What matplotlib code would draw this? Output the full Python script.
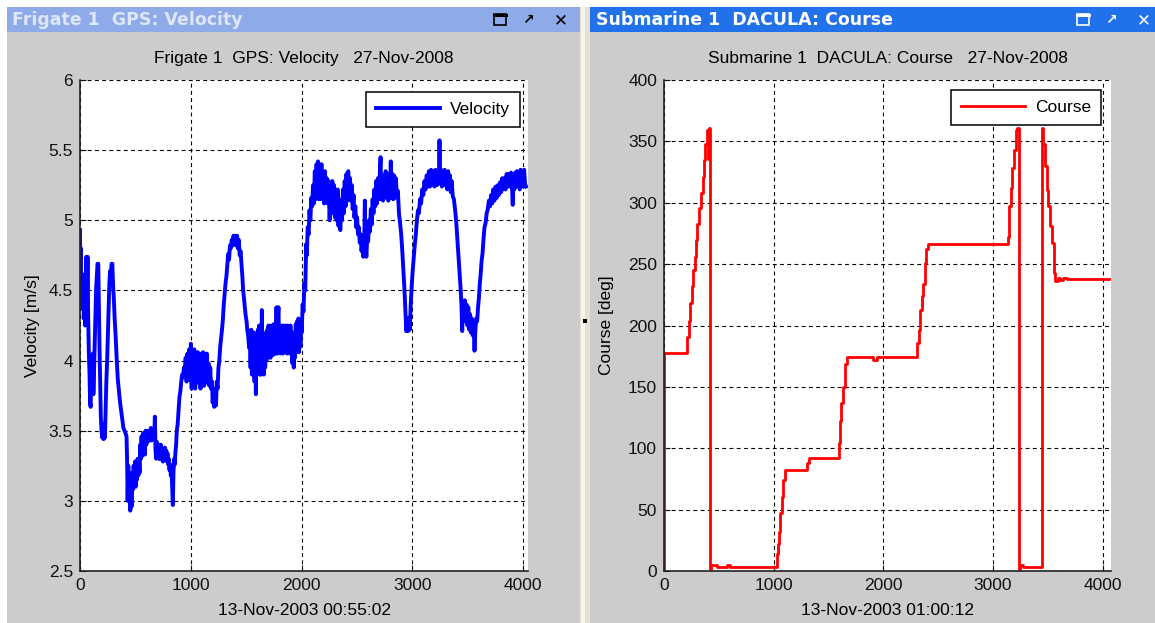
import numpy as np
import matplotlib.pyplot as plt
from matplotlib.patches import Rectangle

plt.rcParams['font.family'] = ['Liberation Sans', 'DejaVu Sans']

#==============================================================================
# DATA (read off the two MATLAB windows)
#==============================================================================

# Frigate 1 GPS velocity [m/s], (sample, value) pairs
vel_start = [(0, 4.93), (4, 4.55), (8, 4.8), (12, 4.45), (17, 4.62), (22, 4.37), (28, 4.5),
             (34, 4.3), (40, 4.45), (46, 4.25), (52, 4.45), (58, 4.74), (63, 4.4), (68, 4.74),
             (74, 4.3), (80, 4.05), (86, 3.9), (91, 3.7), (96, 3.67), (101, 3.85), (106, 4.0),
             (111, 3.9), (116, 4.05), (121, 3.76), (126, 3.9), (132, 4.1), (138, 4.3), (145, 4.5),
             (152, 4.6), (158, 4.69), (165, 4.69), (170, 4.4), (176, 4.1), (182, 3.85), (188, 3.6),
             (194, 3.5), (201, 3.45), (207, 3.55), (213, 3.44), (219, 3.5), (225, 3.45), (231, 3.65),
             (238, 3.85), (245, 4.0), (252, 4.2), (258, 4.4), (265, 4.55), (272, 4.64), (278, 4.6),
             (285, 4.69), (292, 4.69), (298, 4.55), (305, 4.45), (313, 4.3), (322, 4.17), (332, 4.0),
             (342, 3.86), (352, 3.78), (362, 3.7), (372, 3.64), (382, 3.58), (392, 3.52), (402, 3.5),
             (412, 3.48)]

vel_valley = [(420, 3.46), (425, 3.3), (430, 3.0), (436, 3.25), (442, 3.05), (448, 3.2), (454, 2.93),
              (460, 3.1), (466, 2.96), (472, 3.2), (478, 3.08), (484, 3.25), (490, 3.12), (496, 3.28),
              (502, 3.1), (508, 3.25), (514, 3.15), (520, 3.3), (526, 3.18), (532, 3.29), (538, 3.2),
              (544, 3.4), (550, 3.3), (556, 3.46), (562, 3.32), (568, 3.48), (574, 3.35), (580, 3.45),
              (586, 3.33), (592, 3.5), (598, 3.4), (604, 3.48), (610, 3.42), (616, 3.5), (622, 3.43),
              (628, 3.5), (634, 3.44), (640, 3.52), (646, 3.43), (652, 3.48), (658, 3.44), (664, 3.5),
              (670, 3.44), (676, 3.6), (682, 3.36), (688, 3.3), (694, 3.42), (700, 3.33), (706, 3.4),
              (712, 3.3), (718, 3.38), (724, 3.3), (730, 3.4), (736, 3.3), (742, 3.36), (748, 3.28),
              (754, 3.35), (760, 3.3), (766, 3.38), (772, 3.3), (778, 3.36), (784, 3.28), (790, 3.34),
              (796, 3.26), (802, 3.3), (808, 3.22), (814, 3.26), (820, 3.18), (826, 3.24), (832, 3.1),
              (838, 2.97), (844, 3.2), (850, 3.3), (856, 3.26), (862, 3.35), (868, 3.4), (874, 3.5),
              (882, 3.55), (890, 3.65), (898, 3.74), (906, 3.78), (914, 3.85), (922, 3.9), (930, 3.88),
              (938, 3.95), (946, 3.92), (954, 4.02)]

vel_band1 = [(962, 3.85), (970, 4.05), (978, 3.9), (986, 4.08), (994, 3.86), (1001, 4.12), (1008, 3.8),
             (1016, 4.05), (1024, 3.88), (1032, 4.08), (1040, 3.8), (1048, 4.02), (1056, 3.86),
             (1064, 4.06), (1072, 3.84), (1080, 4.02), (1088, 3.8), (1096, 4.05), (1104, 3.86),
             (1112, 4.06), (1120, 3.82), (1128, 4.0), (1136, 3.85), (1144, 4.05), (1152, 3.84),
             (1160, 3.98), (1168, 3.82), (1176, 3.95), (1184, 3.8), (1192, 3.85), (1198, 3.7),
             (1205, 3.8), (1212, 3.67), (1220, 3.72), (1228, 3.68), (1235, 3.85), (1242, 3.8),
             (1250, 3.95)]

vel_hump = [(1258, 4.0), (1266, 4.1), (1274, 4.16), (1282, 4.22), (1290, 4.29), (1298, 4.4),
            (1306, 4.48), (1314, 4.55), (1322, 4.6), (1330, 4.68), (1338, 4.76), (1346, 4.72),
            (1354, 4.82), (1362, 4.8), (1370, 4.86), (1378, 4.82), (1386, 4.89), (1394, 4.84),
            (1402, 4.89), (1410, 4.82), (1418, 4.89), (1426, 4.8), (1434, 4.86), (1442, 4.75),
            (1450, 4.78), (1458, 4.69), (1466, 4.6), (1473, 4.5), (1480, 4.45), (1488, 4.38),
            (1496, 4.32), (1504, 4.28), (1510, 4.22), (1518, 4.18), (1527, 4.09)]

vel_band2 = [(1534, 4.2), (1540, 3.95), (1546, 4.22), (1552, 3.9), (1558, 4.18), (1564, 3.92),
             (1570, 4.2), (1576, 3.85), (1582, 4.1), (1588, 3.76), (1594, 4.15), (1600, 3.95),
             (1606, 4.22), (1612, 3.92), (1618, 4.25), (1624, 3.9), (1630, 4.15), (1636, 3.9),
             (1642, 4.36), (1648, 3.95), (1654, 4.18), (1660, 3.9), (1666, 4.15), (1672, 3.95),
             (1678, 4.2), (1684, 4.0), (1690, 4.22), (1696, 4.05), (1702, 4.25), (1708, 4.05),
             (1714, 4.22), (1720, 4.02), (1726, 4.25), (1732, 4.05), (1738, 4.22), (1744, 4.04),
             (1750, 4.26), (1756, 4.05), (1762, 4.24), (1768, 4.05), (1774, 4.38), (1780, 4.05),
             (1786, 4.3), (1792, 4.38), (1798, 4.08), (1804, 4.25), (1810, 4.05), (1816, 4.22),
             (1822, 4.06), (1828, 4.25), (1834, 4.05), (1840, 4.22), (1846, 4.06), (1852, 4.25),
             (1858, 4.08), (1864, 4.22), (1870, 4.05), (1876, 4.25), (1882, 4.08), (1888, 4.22),
             (1894, 4.05), (1900, 4.25), (1906, 4.05), (1912, 4.2), (1918, 3.98), (1924, 4.2),
             (1930, 3.95), (1936, 4.18), (1942, 4.02), (1948, 4.26), (1954, 4.06), (1960, 4.28),
             (1966, 4.08), (1972, 4.3), (1978, 4.06), (1984, 4.28), (1990, 4.1), (1996, 4.25)]

vel_fast = [(2002, 4.2), (2010, 4.4), (2018, 4.35), (2026, 4.55), (2034, 4.5), (2042, 4.83),
            (2048, 4.75), (2056, 4.95), (2064, 4.9), (2072, 5.07), (2080, 5.0), (2088, 5.16),
            (2096, 5.1), (2104, 5.25), (2112, 5.12), (2120, 5.35), (2128, 5.15), (2136, 5.4),
            (2142, 5.18), (2149, 5.42), (2156, 5.15), (2164, 5.38), (2172, 5.15), (2180, 5.4),
            (2188, 5.18), (2196, 5.32), (2204, 5.12), (2212, 5.35), (2220, 5.15), (2228, 5.3),
            (2236, 5.12), (2244, 5.28), (2254, 5.0), (2262, 5.22), (2270, 5.05), (2278, 5.28),
            (2286, 5.05), (2294, 5.25), (2302, 5.02), (2310, 5.2), (2318, 5.0), (2326, 5.22),
            (2334, 4.96), (2342, 5.15), (2350, 4.93), (2358, 5.12), (2366, 5.0), (2374, 5.22),
            (2382, 5.05), (2390, 5.28), (2398, 5.1), (2406, 5.33), (2414, 5.14), (2422, 5.35),
            (2430, 5.15), (2438, 5.3), (2446, 5.14), (2454, 5.25), (2462, 5.08), (2470, 5.18),
            (2478, 5.02), (2486, 5.1), (2494, 4.95), (2502, 5.02), (2510, 4.9), (2518, 4.95),
            (2526, 4.84), (2534, 4.9), (2542, 4.78), (2550, 4.85), (2558, 4.74), (2566, 4.82),
            (2572, 5.14), (2578, 4.8), (2586, 4.74), (2594, 4.9), (2602, 4.85), (2610, 5.0),
            (2618, 4.92), (2626, 5.08), (2634, 4.97), (2642, 5.15), (2650, 5.05), (2658, 5.22),
            (2666, 5.1), (2674, 5.28), (2682, 5.12), (2690, 5.3), (2698, 5.15), (2706, 5.32),
            (2714, 5.45), (2720, 5.15), (2728, 5.3), (2736, 5.14), (2744, 5.32), (2752, 5.16),
            (2760, 5.35), (2768, 5.18), (2776, 5.3), (2784, 5.14), (2792, 5.33), (2800, 5.18),
            (2806, 5.42), (2812, 5.16), (2820, 5.33), (2828, 5.15), (2836, 5.32), (2844, 5.16),
            (2852, 5.3), (2860, 5.18), (2870, 5.21)]

vel_dips = [(2880, 5.05), (2890, 4.98), (2900, 4.9), (2910, 4.78), (2920, 4.64), (2930, 4.5),
            (2938, 4.35), (2946, 4.21), (2954, 4.3), (2962, 4.21), (2970, 4.3), (2978, 4.22),
            (2986, 4.4), (2994, 4.52), (3002, 4.62), (3010, 4.7), (3021, 4.81), (3030, 4.88),
            (3040, 4.98), (3051, 5.07), (3060, 5.05), (3070, 5.15), (3080, 5.12), (3090, 5.22),
            (3100, 5.18), (3110, 5.28), (3120, 5.22), (3130, 5.32), (3140, 5.24), (3150, 5.35),
            (3160, 5.24), (3170, 5.36), (3180, 5.26), (3190, 5.35), (3200, 5.24), (3210, 5.36),
            (3220, 5.25), (3230, 5.35), (3240, 5.26), (3246, 5.57), (3252, 5.28), (3260, 5.36),
            (3268, 5.24), (3276, 5.35), (3284, 5.25), (3292, 5.36), (3300, 5.26), (3308, 5.34),
            (3316, 5.22), (3324, 5.35), (3332, 5.24), (3340, 5.32), (3348, 5.2), (3356, 5.28),
            (3366, 5.17), (3376, 5.15), (3386, 5.08), (3396, 5.0), (3406, 4.88), (3416, 4.76),
            (3426, 4.64), (3436, 4.52), (3444, 4.4), (3451, 4.21), (3458, 4.42), (3466, 4.3),
            (3474, 4.43), (3482, 4.28), (3490, 4.4), (3498, 4.25), (3506, 4.38), (3514, 4.22),
            (3522, 4.33), (3530, 4.2), (3538, 4.3), (3546, 4.18), (3554, 4.26), (3562, 4.07),
            (3570, 4.22), (3578, 4.3), (3586, 4.28), (3594, 4.38), (3602, 4.45), (3610, 4.55),
            (3618, 4.62), (3626, 4.71), (3634, 4.76), (3642, 4.85), (3652, 4.95), (3662, 4.98),
            (3672, 5.05), (3682, 5.08), (3692, 5.14), (3702, 5.1), (3712, 5.18), (3722, 5.12),
            (3732, 5.22), (3742, 5.14), (3752, 5.24), (3762, 5.16), (3772, 5.25), (3782, 5.18),
            (3792, 5.27), (3802, 5.2), (3812, 5.3), (3822, 5.22), (3832, 5.3), (3842, 5.22),
            (3852, 5.33), (3862, 5.24), (3872, 5.33), (3882, 5.24), (3892, 5.34), (3900, 5.25),
            (3907, 5.11), (3914, 5.3), (3922, 5.22), (3930, 5.34), (3938, 5.24), (3946, 5.35),
            (3954, 5.25), (3962, 5.32), (3970, 5.22), (3978, 5.36), (3986, 5.25), (3994, 5.33),
            (4002, 5.24), (4010, 5.36), (4018, 5.26), (4028, 5.24)]

# Submarine 1 DACULA course [deg], value holds until the next sample
course_pts = [(0, 0), (4, 178), (212, 191), (224, 204), (237, 218), (252, 232), (268, 245),
              (280, 256), (292, 270), (305, 283), (320, 296), (336, 308), (352, 321), (364, 335),
              (376, 348), (390, 359), (400, 336), (406, 361), (420, 2), (432, 5), (480, 3),
              (572, 5), (602, 3), (1030, 14), (1040, 22), (1050, 32), (1062, 47), (1074, 60),
              (1087, 74), (1100, 82), (1302, 88), (1318, 92), (1592, 104), (1604, 122),
              (1617, 137), (1632, 150), (1648, 169), (1665, 174), (1904, 172), (1940, 174),
              (2310, 186), (2322, 196), (2334, 213), (2348, 224), (2360, 234), (2375, 251),
              (2390, 262), (2406, 266), (3136, 272), (3146, 297), (3160, 312), (3175, 328),
              (3190, 343), (3205, 359), (3220, 361), (3236, 2), (3246, 5), (3275, 3),
              (3446, 361), (3458, 348), (3472, 330), (3487, 310), (3500, 297), (3516, 281),
              (3536, 267), (3552, 243), (3568, 236), (3590, 239), (3613, 237), (3640, 239),
              (3673, 238), (4054, 238)]

x_ticks = [0, 1000, 2000, 3000, 4000]
vel_yticks = [2.5, 3, 3.5, 4, 4.5, 5, 5.5, 6]
vel_ylabels = ['2.5', '3', '3.5', '4', '4.5', '5', '5.5', '6']
course_yticks = [0, 50, 100, 150, 200, 250, 300, 350, 400]
course_ylabels = ['0', '50', '100', '150', '200', '250', '300', '350', '400']

vel = np.array(vel_start + vel_valley + vel_band1 + vel_hump + vel_band2 + vel_fast + vel_dips)
course = np.array(course_pts)

#==============================================================================
# FIGURE + WINDOW FRAMES (pixel coordinates)
#==============================================================================

W, H = 1155, 623
fig = plt.figure(figsize=(W / 100, H / 100), dpi=100)
fig.patch.set_facecolor('white')

bg = fig.add_axes([0, 0, 1, 1], zorder=0)
bg.set_xlim(0, W)
bg.set_ylim(H, 0)
bg.axis('off')

bg.add_patch(Rectangle((7, 7), 573, H - 7, facecolor='#cccccc', lw=0))
bg.add_patch(Rectangle((590, 7), W - 590, H - 7, facecolor='#cccccc', lw=0))
bg.add_patch(Rectangle((7, 7), 573, 25, facecolor='#8eaae8', lw=0))
bg.add_patch(Rectangle((590, 7), W - 590, 25, facecolor='#2171ea', lw=0))
bg.add_patch(Rectangle((580, 7), 10, H - 7, facecolor='#e6e2cf', lw=0))
bg.add_patch(Rectangle((581, 7), 4, H - 7, facecolor='#f6f4ec', lw=0))
bg.add_patch(Rectangle((583, 319), 4, 4, facecolor='black', lw=0))

bg.text(12, 20, 'Frigate 1  GPS: Velocity', fontsize=12.5, fontweight='bold',
        color='#dfe6f8', va='center', family='DejaVu Sans')
bg.text(596, 20, 'Submarine 1  DACULA: Course', fontsize=12.5, fontweight='bold',
        color='white', va='center', family='DejaVu Sans')


def window_buttons(x0, color):
    # maximise / undock / close
    bg.add_patch(Rectangle((x0, 14), 12, 11, fill=False, edgecolor=color, lw=1.2))
    bg.plot([x0, x0 + 12], [14.6, 14.6], color=color, lw=2.2)
    bg.text(x0 + 34, 20, '\u2197', fontsize=10, fontweight='bold', color=color,
            ha='center', va='center', family='DejaVu Sans')
    bg.text(x0 + 67, 20, '\u2715', fontsize=12, fontweight='bold', color=color,
            ha='center', va='center', family='DejaVu Sans')


window_buttons(494, 'black')
window_buttons(1077, 'white')

#==============================================================================
# PLOTS
#==============================================================================


def setup_axes(ax, xmax, ylim, yticks, ylabels, ylabel, title, xlabel, ylabelpad):
    ax.set_facecolor('white')
    ax.set_xlim(0, xmax)
    ax.set_ylim(*ylim)
    ax.set_xticks(x_ticks)
    ax.set_xticklabels([str(t) for t in x_ticks])
    ax.set_yticks(yticks)
    ax.set_yticklabels(ylabels)
    for s in ['top', 'right']:
        ax.spines[s].set_visible(False)
    for s in ['left', 'bottom']:
        ax.spines[s].set_color('#222222')
        ax.spines[s].set_linewidth(1.2)
    ax.grid(True, color='black', linestyle=(0, (3.5, 3)), linewidth=0.8)
    ax.set_axisbelow(True)
    ax.tick_params(direction='in', length=4, labelsize=12.5, pad=5, colors='#111111')
    ax.set_title(title, fontsize=12.5, pad=12.5)
    ax.set_xlabel(xlabel, fontsize=12.5, labelpad=7.5)
    ax.set_ylabel(ylabel, fontsize=12.5, labelpad=ylabelpad)


def add_legend(ax, anchor):
    leg = ax.legend(loc='upper right', bbox_to_anchor=anchor, borderaxespad=0,
                    fontsize=12.5, fancybox=False, framealpha=1, edgecolor='black',
                    handlelength=3.7, handletextpad=0.55, borderpad=0.58)
    leg.get_frame().set_linewidth(1.1)


ax1 = fig.add_axes([80 / W, 52 / H, 448 / W, 491 / H], zorder=2)
setup_axes(ax1, 4045, (2.5, 6), vel_yticks, vel_ylabels, 'Velocity [m/s]',
           'Frigate 1  GPS: Velocity   27-Nov-2008', '13-Nov-2003 00:55:02', 6)
ax1.plot(vel[:, 0], vel[:, 1], color='#0000ff', linewidth=2.8, label='Velocity')
add_legend(ax1, (0.982, 0.976))

ax2 = fig.add_axes([664 / W, 52 / H, 447 / W, 491 / H], zorder=2)
setup_axes(ax2, 4075, (0, 400), course_yticks, course_ylabels, 'Course [deg]',
           'Submarine 1  DACULA: Course   27-Nov-2008', '13-Nov-2003 01:00:12', 10)
ax2.plot(course[:, 0], course[:, 1], color='#ff0000', linewidth=2.0,
         drawstyle='steps-post', label='Course')
add_legend(ax2, (0.978, 0.98))

fig.savefig('out.png', dpi=100)
